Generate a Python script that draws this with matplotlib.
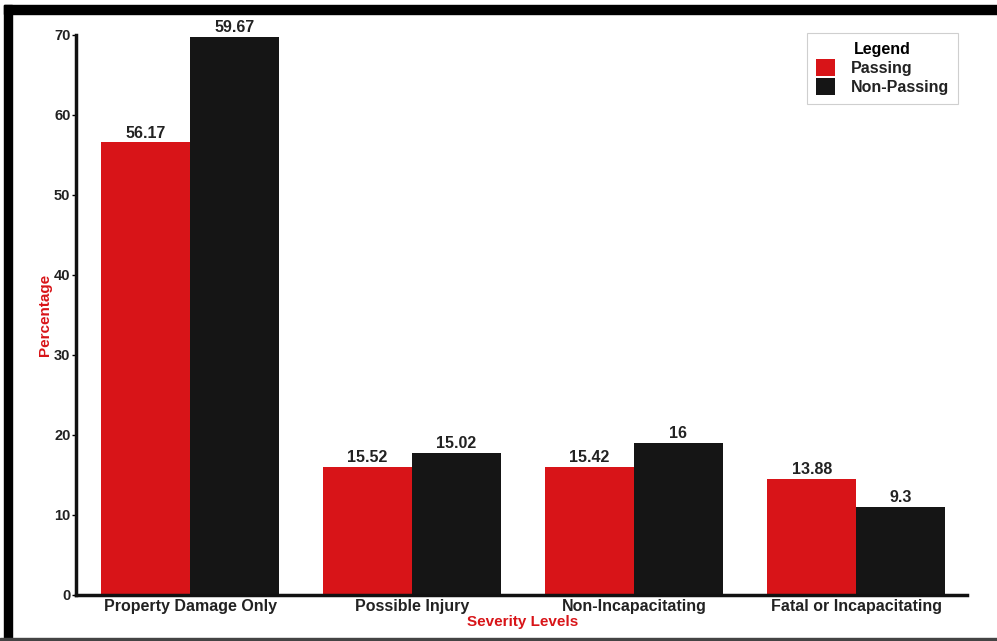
import matplotlib
matplotlib.use('Agg')
import matplotlib.pyplot as plt
from matplotlib.patches import Rectangle
import numpy as np

plt.rcParams['font.family'] = ['Liberation Sans', 'DejaVu Sans']
plt.rcParams['font.weight'] = 'bold'

# Data
categories = ['Property Damage Only', 'Possible Injury', 'Non-Incapacitating', 'Fatal or Incapacitating']
passing = [56.6, 16.0, 16.0, 14.5]        # drawn bar heights
non_passing = [69.8, 17.8, 19.0, 11.0]
passing_labels = ['56.17', '15.52', '15.42', '13.88']   # printed value labels
non_passing_labels = ['59.67', '15.02', '16', '9.3']
yticks = [0, 10, 20, 30, 40, 50, 60, 70]

red = '#d81418'
black = '#151515'
txt = '#222222'

fig = plt.figure(figsize=(9.97, 6.41), dpi=100)
ax = fig.add_axes([0.0762, 0.0718, 0.8938, 0.8736])

x = np.arange(len(categories))
w = 0.4
ax.bar(x - w / 2, passing, w, color=red, label='Passing')
ax.bar(x + w / 2, non_passing, w, color=black, label='Non-Passing')

for xi, h, lab in zip(x - w / 2, passing, passing_labels):
    ax.text(xi, h + 0.2, lab, ha='center', va='bottom', fontsize=11.5, fontweight='bold', color=txt)
for xi, h, lab in zip(x + w / 2, non_passing, non_passing_labels):
    ax.text(xi, h + 0.2, lab, ha='center', va='bottom', fontsize=11.5, fontweight='bold', color=txt)

ax.set_xlim(-0.514, 3.5)
ax.set_ylim(0, 70)
ax.set_yticks(yticks)
ax.set_yticklabels([str(t) for t in yticks], fontsize=10.5, fontweight='bold', color=txt)
ax.set_xticks(x)
ax.set_xticklabels(categories, fontsize=11.5, fontweight='bold', color=txt)
ax.tick_params(axis='x', length=0, pad=3)
ax.tick_params(axis='y', length=3, width=1, pad=1)

for s in ['top', 'right']:
    ax.spines[s].set_visible(False)
for s in ['left', 'bottom']:
    ax.spines[s].set_linewidth(2.5)
    ax.spines[s].set_color('#111111')

ax.set_xlabel('Severity Levels', color=red, fontsize=11, fontweight='bold')
ax.set_ylabel('Percentage', color=red, fontsize=11, fontweight='bold')
ax.xaxis.set_label_coords(0.501, -0.036)
ax.yaxis.set_label_coords(-0.027, 0.50)

leg = ax.legend(loc='upper right', bbox_to_anchor=(0.9955, 1.012), title='Legend',
                fontsize=11.5, title_fontproperties={'weight': 'bold', 'size': 11.5},
                frameon=True, fancybox=False, edgecolor='#c4c4c4',
                handlelength=1.2, handleheight=1.2, borderpad=0.55, labelspacing=0.15,
                handletextpad=1.0, borderaxespad=0.3)
leg.get_frame().set_linewidth(0.8)
for t in leg.get_texts():
    t.set_fontweight('bold')
    t.set_color(txt)

# scanned page frame
fig.patches.append(Rectangle((0.004, 0.0), 0.008, 0.992, transform=fig.transFigure, color='black'))
fig.patches.append(Rectangle((0.004, 0.978), 0.996, 0.014, transform=fig.transFigure, color='black'))
fig.patches.append(Rectangle((0.0, 0.0), 1.0, 0.005, transform=fig.transFigure, color='#444444'))

fig.savefig('out.png', dpi=100)
